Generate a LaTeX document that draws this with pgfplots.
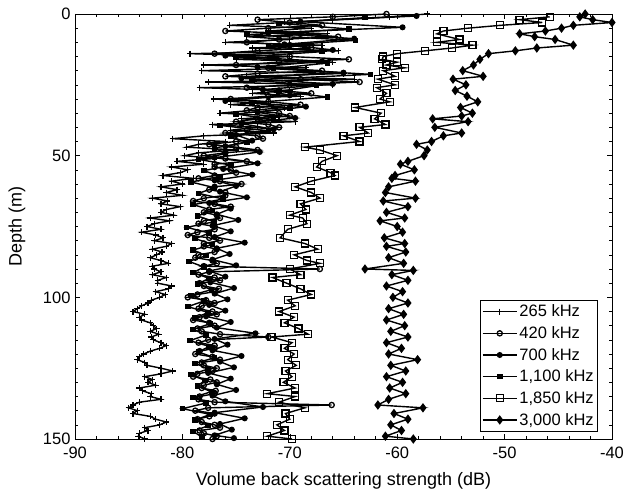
\documentclass[border=0pt]{standalone}
\usepackage{pgfplots}
\pgfplotsset{compat=1.18}
\usepackage{fontspec}
\setmainfont{Liberation Sans}
\setsansfont{Liberation Sans}

\begin{document}
\begin{tikzpicture}
\path[use as bounding box] (-75pt,-53pt) rectangle (551pt,439pt);
\begin{axis}[
  at={(0pt,0pt)}, anchor=south west,
  scale only axis,
  width=537pt, height=425pt,
  xmin=-90, xmax=-40, ymin=0, ymax=150,
  y dir=reverse,
  xtick={-90,-80,-70,-60,-50,-40},
  ytick={0,50,100,150},
  minor x tick num=4,
  minor y tick num=9,
  major tick length=5pt, minor tick length=3pt,
  tick style={black, line width=0.6pt},
  axis line style={line width=0.9pt},
  /pgf/number format/assume math mode=true,
  ticklabel style={font=\fontsize{16.5}{19}\selectfont},
  xticklabel style={yshift=-4pt},
  yticklabel style={xshift=-1pt},
  xlabel={Volume back scattering strength (dB)},
  ylabel={Depth (m)},
  label style={font=\fontsize{18}{21}\selectfont},
  xlabel style={at={(axis description cs:0.5,-0.099)}, anchor=center},
  ylabel style={at={(axis description cs:-0.108,0.5)}, anchor=center},
  legend style={at={(0.974,0.0165)}, anchor=south east, draw=black, line width=0.6pt,
    font=\fontsize{16.5}{19}\selectfont, row sep=4.2pt, inner xsep=2pt, inner ysep=3pt,
    cells={anchor=west}},
  legend cell align=left,
  legend image code/.code={\draw[mark repeat=2,mark phase=2,#1] plot coordinates {(0pt,0pt) (17pt,0pt) (34pt,0pt)};},
  every axis plot/.append style={black, line width=1.4pt},
]
% 265 kHz
\addplot[mark=+, mark size=3pt, mark options={line width=1.2pt}] table[x index=1, y index=0] {
0 -57.2
1 -60.7
2 -66.0
3 -70.5
4 -75.6
5 -68.0
6 -72.0
7 -66.5
8 -74.0
9 -70.0
10 -76.0
11 -67.0
12 -73.5
13 -65.5
14 -79.3
15 -70.0
16 -75.0
17 -66.0
18 -78.0
19 -68.5
20 -78.2
21 -65.0
22 -74.0
23 -64.0
24 -77.6
25 -66.0
26 -78.4
27 -70.0
28 -73.5
29 -69.0
30 -77.1
31 -72.0
32 -75.5
33 -70.5
35 -76.5
36 -71.0
37 -74.5
38 -69.5
39 -77.2
40 -73.0
41 -75.5
42 -71.5
43 -78.0
44 -80.9
45 -76.0
46 -78.5
47 -79.6
48 -75.0
49 -78.5
50 -79.8
51 -77.0
52 -80.5
53 -78.0
54 -81.0
55 -79.5
56 -80.2
57 -81.8
58 -79.0
59 -81.0
60 -80.0
61 -82.0
62 -80.5
63 -81.5
64 -80.0
65 -82.8
66 -81.4
67 -82.0
68 -80.2
69 -81.5
70 -82.0
71 -80.8
72 -83.0
73 -81.2
74 -82.6
75 -83.3
76 -82.0
77 -83.8
78 -82.5
79 -81.8
80 -82.6
81 -81.0
82 -81.5
83 -82.8
84 -81.9
85 -82.4
86 -83.0
87 -82.0
88 -81.3
89 -82.8
90 -82.6
91 -82.0
92 -82.8
93 -81.5
94 -82.3
95 -82.3
96 -81.0
97 -81.3
98 -82.5
99 -81.6
100 -82.1
101 -82.9
102 -83.2
103 -83.8
104 -84.2
105 -84.6
106 -83.5
107 -84.0
108 -83.8
109 -83.0
110 -82.7
111 -82.4
112 -83.0
113 -82.2
114 -82.9
115 -82.7
116 -82.0
117 -81.5
118 -82.1
119 -83.0
120 -83.6
121 -84.0
122 -84.2
123 -83.5
124 -83.3
125 -82.0
126 -80.9
127 -82.0
128 -83.5
129 -82.8
130 -83.2
131 -82.5
132 -84.0
133 -83.7
134 -82.9
135 -83.0
136 -82.0
137 -84.0
138 -84.6
139 -85.0
140 -84.2
141 -84.6
142 -83.0
143 -82.5
144 -81.5
145 -82.1
146 -83.5
147 -83.2
148 -84.0
149 -84.1
150 -83.5
};
\addlegendentry{265 kHz}
% 420 kHz
\addplot[mark=o, mark size=2.6pt, mark options={fill=white, line width=1.3pt}] table[x index=1, y index=0] {
0 -61
1 -66
2 -73
3 -70
4 -67
5 -72
6 -76
7 -69
8 -65.5
9 -71
10 -74
11 -70
12 -68
13 -73
14 -77
15 -70
16 -64.5
17 -71
18 -75
19 -72
20 -67
21 -73
22 -76
23 -69
24 -63.5
25 -70
26 -74
27 -71
28 -68
29 -72
30 -75.5
31 -72
32 -69
33 -73
34 -74
35 -71
36 -70
37 -73
38 -75
39 -72
40 -71
41 -74
42 -76
43 -73
44 -72.5
45 -75
46 -77.5
47 -75
48 -73
49 -76
50 -78
51 -76
52 -74
53 -77
54 -77
55 -75.5
56 -75
57 -77
58 -78.5
59 -76.5
60 -74.5
61 -77
62 -77.5
63 -76
64 -76
65 -78
66 -79
67 -77
68 -75.5
69 -77.5
70 -78
71 -76.8
72 -76.5
73 -78
74 -78.5
75 -77
76 -77
77 -78.6
78 -79.5
79 -77.5
80 -76.5
81 -78
82 -78
83 -76.8
84 -77
85 -78.5
86 -78.8
87 -77.2
88 -76.8
89 -78
90 -67.2
91 -77.5
92 -78.5
93 -77
94 -76.5
95 -78.4
96 -78
97 -76.6
98 -77
99 -78.6
100 -79.5
101 -77.8
102 -77
103 -78.2
104 -78.5
105 -77.2
106 -76.8
107 -78.4
108 -79
109 -77.5
110 -77
111 -78.6
112 -78.2
113 -76.5
114 -72.0
115 -77.6
116 -78.5
117 -77
118 -77
119 -78.4
120 -78.8
121 -77.2
122 -76.5
123 -78.2
124 -78
125 -76.8
126 -77.2
127 -78.6
128 -79
129 -77.4
130 -76.8
131 -78
132 -78.2
133 -76.9
134 -77
135 -78.4
136 -78.5
137 -77
138 -66.1
139 -77.6
140 -78.8
141 -77
142 -77.5
143 -78.6
144 -78.2
145 -77
146 -76.5
147 -78.4
148 -78
149 -76.8
150 -77.2
};
\addlegendentry{420 kHz}
% 700 kHz
\addplot[mark=*, mark size=2.3pt] table[x index=1, y index=0] {
0.7 -58.2
2.7 -69
4.7 -59.5
6.7 -72
8.7 -64
10.7 -70.5
12.7 -66
14.7 -76
16.7 -67
18.7 -73
20.7 -65
22.7 -74.5
24.7 -66
26.7 -72.5
28.7 -70
30.7 -76
32.7 -68.5
34.7 -73
36.7 -69.5
38.7 -74.5
40.7 -71.5
42.7 -75
44.7 -73.5
46.7 -76
48.7 -72.8
50.7 -77
52.7 -73
54.7 -76.2
56.7 -73.5
58.7 -77
60.7 -75
62.7 -76.5
64.7 -74
66.7 -77.5
68.7 -75.5
70.7 -76.8
72.7 -74.8
74.7 -77.2
76.7 -75.5
78.7 -77
80.7 -74.2
82.7 -76.8
84.7 -75.6
86.7 -77.2
88.7 -75.0
90.7 -77.5
92.7 -76
94.7 -77.4
96.7 -75.2
98.7 -77
100.7 -75.8
102.7 -77.5
104.7 -76
106.7 -77.8
108.7 -75.5
110.7 -76.8
112.7 -73.2
114.7 -77
116.7 -75.8
118.7 -77.2
120.7 -74.5
122.7 -76.5
124.7 -75.2
126.7 -77.6
128.7 -75.5
130.7 -76.8
132.7 -75
134.7 -77.2
136.7 -76
138.7 -72.5
140.7 -77
142.7 -74.2
144.7 -76.5
146.7 -75.4
148.7 -77
149.7 -75.2
};
\addlegendentry{700 kHz}
% 1100 kHz
\addplot[mark=square*, mark size=2.1pt] table[x index=1, y index=0] {
1.3 -63
3.3 -71
5.3 -64.5
7.3 -74
9.3 -63.9
11.3 -72
13.3 -67
15.3 -75
17.3 -66.5
19.3 -71.5
21.3 -62.5
23.3 -73.5
25.3 -67.5
27.3 -71
29.3 -66.5
31.3 -73.5
33.3 -70
35.3 -75
37.3 -71.5
39.3 -76.5
41.3 -72
43.3 -75.5
45.3 -74
47.3 -77
49.3 -76
51.3 -78.5
53.3 -75.5
55.3 -78
57.3 -76.5
59.3 -79.2
61.3 -77
63.3 -78.5
65.3 -76.2
67.3 -79
69.3 -77.2
71.3 -78.6
73.3 -77
75.3 -79.6
77.3 -77.5
79.3 -78.8
81.3 -77.2
83.3 -79
85.3 -77.8
87.3 -79.4
89.3 -78
91.3 -79
93.3 -77.5
95.3 -78.6
97.3 -77.3
99.3 -79.2
101.3 -78
103.3 -79.5
105.3 -77.6
107.3 -78.8
109.3 -77.4
111.3 -79
113.3 -77.8
115.3 -79.3
117.3 -77.5
119.3 -78.5
121.3 -77
123.3 -78.8
125.3 -77.6
127.3 -79.2
129.3 -77.9
131.3 -78.6
133.3 -77.3
135.3 -79
137.3 -77.8
139.3 -80.0
141.3 -77.4
143.3 -78.8
145.3 -77.6
147.3 -79
149.3 -78.2
};
\addlegendentry{1,100 kHz}
% 1850 kHz
\addplot[mark=square, mark size=3.5pt, mark options={fill=white, line width=1.3pt}] table[x index=1, y index=0] {
1 -45.8
2 -48.6
3 -46.5
4 -50.4
5 -53.4
6 -55.7
7 -56.3
9 -54.2
10 -56.3
11 -53.0
12 -54.9
13 -57.4
14 -60.0
15 -61.3
16 -61.4
17 -60.0
18 -61.0
19 -59.3
20 -61.3
22 -60.2
23 -61.8
25 -60.2
26 -61.9
28 -61.0
30 -61.6
31 -60.7
33 -63.9
35 -61.5
37 -62.1
39 -61.1
40 -63.5
42 -62.7
43 -65.0
45 -63.5
47 -68.6
48 -67.2
50 -65.6
52 -67.0
54 -67.5
56 -66.2
57 -65.8
59 -68.0
61 -69.5
63 -68.0
65 -67.2
67 -69.0
69 -68.5
71 -70.0
72 -68.8
74 -68.4
76 -70.2
79 -70.9
81 -68.6
83 -67.4
85 -69.6
87 -68.4
88 -67.2
90 -70.0
92 -69.0
93 -71.6
95 -70.3
97 -69.0
99 -68.0
101 -70.2
103 -69.5
105 -71.0
107 -69.6
109 -70.5
111 -69.2
113 -68.3
114 -71.7
116 -69.8
118 -70.5
120 -69.6
122 -70.2
124 -69.4
126 -70.4
128 -69.8
130 -70.6
132 -69.5
134 -72.1
135 -69.5
137 -71.0
139 -68.6
141 -70.4
143 -70.0
145 -71.2
147 -70.5
149 -72.1
150 -69.8
};
\addlegendentry{1,850 kHz}
% 3000 kHz
\addplot[mark=diamond*, mark size=3.6pt] table[x index=1, y index=0] {
0 -42.5
1 -43.0
2 -41.8
3 -40.0
4 -43.6
5 -44.7
6 -46.2
7 -48.6
8 -47.2
9 -45.3
11 -43.6
12 -47.0
13 -49.0
14 -51.5
16 -52.3
18 -52.9
20 -53.9
22 -52.0
23 -54.8
25 -53.6
27 -54.6
29 -53.5
31 -52.5
33 -54.1
35 -53.0
36 -54.0
37 -56.7
38 -53.4
40 -56.5
42 -54.0
43 -55.7
45 -56.8
46 -58.2
48 -57.2
50 -57.5
52 -59.0
53 -59.7
55 -58.4
57 -60.2
58 -60.5
59 -58.3
61 -60.8
63 -61.1
65 -58.3
66 -61.3
68 -59.0
70 -61.0
72 -59.3
73 -61.6
75 -60.0
77 -59.5
79 -61.2
81 -59.3
82 -61.0
84 -59.2
86 -60.8
88 -59.4
90 -63.0
90.5 -58.5
92 -60.5
94 -59.0
96 -61.0
98 -59.5
100 -60.4
102 -59.0
104 -60.8
106 -59.4
108 -61.0
110 -59.3
112 -60.6
114 -59.0
116 -61.0
118 -59.6
120 -60.8
122 -58.1
124 -60.6
126 -59.2
128 -61.0
130 -59.5
132 -60.7
134 -59.2
136 -60.8
138 -61.8
139 -57.6
141 -60.3
143 -59.0
145 -60.6
147 -59.6
149 -61.1
150 -58.5
};
\addlegendentry{3,000 kHz}
\end{axis}
\end{tikzpicture}
\end{document}
